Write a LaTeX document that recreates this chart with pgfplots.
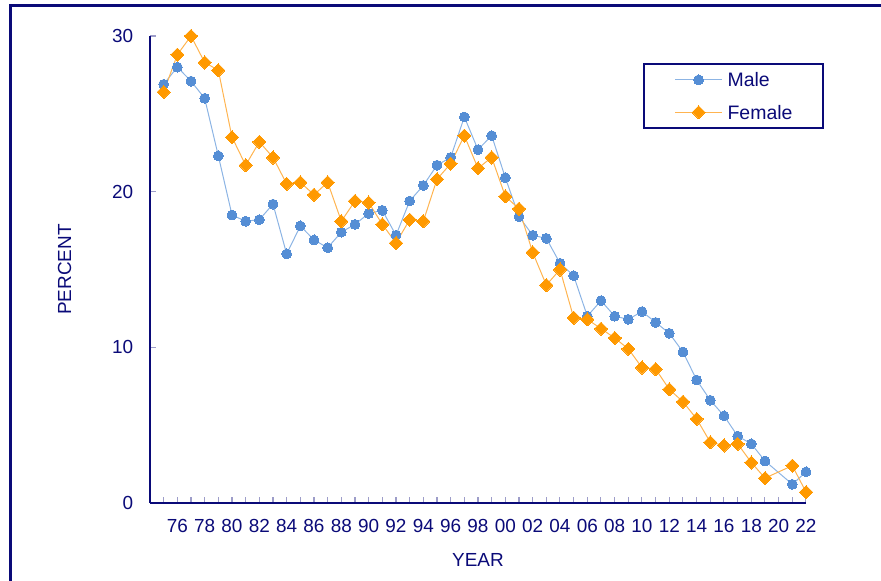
\documentclass[border=0pt]{standalone}
\usepackage{pgfplots}
\pgfplotsset{compat=1.18}
\usepackage{fontspec}
\setmainfont{Liberation Sans}
\definecolor{navy}{RGB}{10,10,120}
\definecolor{mblue}{RGB}{85,142,213}
\definecolor{mbluel}{RGB}{140,180,228}
\definecolor{forange}{RGB}{255,153,0}
\definecolor{forangel}{RGB}{255,180,80}
\begin{document}
\begin{tikzpicture}[x=0.75pt,y=0.75pt]
\useasboundingbox (0,0) rectangle (881,581);
\draw[navy, line width=2.25pt] (10.5,0) -- (10.5,575) -- (881,575);
\begin{axis}[
  at={(112.5pt,58.5pt)}, anchor=south west,
  scale only axis, width=492pt, height=350.25pt,
  xmin=1974, xmax=2022, ymin=0, ymax=30,
  clip=false,
  axis x line=bottom, axis y line=left,
  axis line style={-, navy, line width=1.1pt},
  tick align=inside, major tick length=4.5pt,
  tick style={color=navy!40, line width=0.8pt},
  xtick={1975,...,2022},
  xticklabels={,76,,78,,80,,82,,84,,86,,88,,90,,92,,94,,96,,98,,00,,02,,04,,06,,08,,10,,12,,14,,16,,18,,20,,22},
  ytick={0,10,20,30},
  /pgf/number format/assume math mode=true,
  every tick label/.append style={font=\fontsize{14.2}{16}\selectfont, text=navy},
  xticklabel style={inner sep=0pt, anchor=north, yshift=-12pt},
  yticklabel style={inner sep=0pt, anchor=east, xshift=-12.5pt},
  xlabel={YEAR}, ylabel={PERCENT},
  label style={font=\fontsize{14.2}{16}\selectfont, text=navy},
  xlabel style={at={(axis description cs:0.5,0)}, anchor=center, yshift=-42.75pt},
  ylabel style={at={(axis description cs:0,0.5)}, anchor=center, yshift=64pt},
  legend style={at={(0.7515,0.9422)}, anchor=north west, draw=navy, line width=1.5pt, fill=white,
    inner xsep=23pt, inner ysep=6.75pt, row sep=14pt, column sep=3.75pt,
    font=\fontsize{14.6}{16}\selectfont, text=navy,
    nodes={inner sep=0pt, text height=10.3pt, text depth=0pt}},
  legend cell align=left,
  legend image code/.code={\draw[#1, mark repeat=2, mark phase=2] plot coordinates {(0pt,0pt) (17.6pt,0pt) (35.2pt,0pt)};},
]
\addplot[color=mbluel, line width=0.75pt, mark=*, mark size=3.7pt, mark options={draw=mblue, fill=mblue, line width=0pt}] coordinates {
(1975,26.9) (1976,28.0) (1977,27.1) (1978,26.0) (1979,22.3) (1980,18.5) (1981,18.1) (1982,18.2)
(1983,19.2) (1984,16.0) (1985,17.8) (1986,16.9) (1987,16.4) (1988,17.4) (1989,17.9) (1990,18.6)
(1991,18.8) (1992,17.2) (1993,19.4) (1994,20.4) (1995,21.7) (1996,22.2) (1997,24.8) (1998,22.7)
(1999,23.6) (2000,20.9) (2001,18.4) (2002,17.2) (2003,17.0) (2004,15.4) (2005,14.6) (2006,12.0)
(2007,13.0) (2008,12.0) (2009,11.8) (2010,12.3) (2011,11.6) (2012,10.9) (2013,9.7) (2014,7.9)
(2015,6.6) (2016,5.6) (2017,4.3) (2018,3.8) (2019,2.7) (2021,1.2) (2022,2.0)
};
\addlegendentry{Male}
\addplot[color=forangel, line width=0.75pt, mark=square*, mark size=3.5pt, mark options={draw=forange, fill=forange, rotate=45, line width=0pt}] coordinates {
(1975,26.4) (1976,28.8) (1977,30.0) (1978,28.3) (1979,27.8) (1980,23.5) (1981,21.7) (1982,23.2)
(1983,22.2) (1984,20.5) (1985,20.6) (1986,19.8) (1987,20.6) (1988,18.1) (1989,19.4) (1990,19.3)
(1991,17.9) (1992,16.7) (1993,18.2) (1994,18.1) (1995,20.8) (1996,21.8) (1997,23.6) (1998,21.5)
(1999,22.2) (2000,19.7) (2001,18.9) (2002,16.1) (2003,14.0) (2004,15.0) (2005,11.9) (2006,11.8)
(2007,11.2) (2008,10.6) (2009,9.9) (2010,8.7) (2011,8.6) (2012,7.3) (2013,6.5) (2014,5.4)
(2015,3.9) (2016,3.7) (2017,3.8) (2018,2.6) (2019,1.6) (2021,2.4) (2022,0.7)
};
\addlegendentry{Female}
\end{axis}
\end{tikzpicture}
\end{document}
